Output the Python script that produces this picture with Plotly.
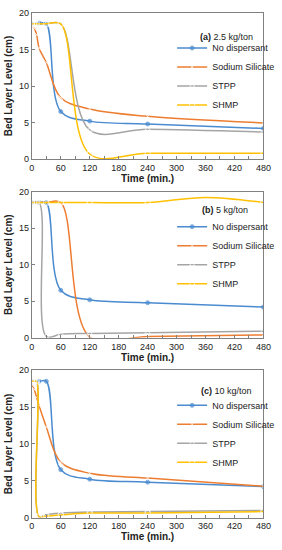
import plotly.graph_objects as go

# ---------------- data ----------------
series_names = ["No dispersant", "Sodium Silicate", "STPP", "SHMP"]
panel_titles = ["<b>(a)</b> 2.5 kg/ton", "<b>(b)</b> 5 kg/ton", "<b>(c)</b> 10 kg/ton"]
x_ticks = [0, 60, 120, 180, 240, 300, 360, 420, 480]
y_ticks = [0, 5, 10, 15, 20]

# panel (a) 2.5 kg/ton
a_nod_t = [0, 15, 30, 60, 120, 240, 480]
a_nod_v = [18.5, 18.6, 18.5, 6.5, 5.2, 4.8, 4.2]
a_ss_t = [0, 5, 10, 15, 30, 60, 120, 240, 480]
a_ss_v = [18.3, 17.9, 17.0, 15.2, 13.2, 8.4, 6.85, 5.85, 4.95]
a_stpp_t = [0, 5, 10, 30, 60, 120, 240, 480]
a_stpp_v = [18.5, 18.5, 18.5, 18.5, 18.5, 4.0, 4.1, 3.7]
a_shmp_t = [0, 5, 10, 30, 60, 120, 240, 480]
a_shmp_v = [18.5, 18.5, 18.5, 18.5, 18.5, 0.7, 0.8, 0.8]

# panel (b) 5 kg/ton
b_nod_t = [0, 15, 30, 60, 120, 240, 480]
b_nod_v = [18.5, 18.5, 18.5, 6.5, 5.2, 4.8, 4.2]
b_ss_t = [0, 30, 60, 120, 240, 480]
b_ss_v = [18.5, 18.5, 18.5, 0.1, 0.2, 0.4]
b_stpp_t = [0, 15, 30, 60, 120, 240, 480]
b_stpp_v = [18.5, 18.5, 0.2, 0.5, 0.6, 0.7, 0.9]
b_shmp_t = [0, 5, 10, 30, 60, 120, 240, 360, 480]
b_shmp_v = [18.5, 18.5, 18.5, 18.5, 18.5, 18.5, 18.5, 19.2, 18.5]

# panel (c) 10 kg/ton
c_nod_t = [0, 15, 30, 60, 120, 240, 480]
c_nod_v = [18.5, 18.5, 18.5, 6.5, 5.2, 4.8, 4.2]
c_ss_t = [0, 5, 10, 15, 30, 60, 120, 240, 480]
c_ss_v = [18.0, 17.4, 16.3, 15.2, 12.3, 7.5, 6.0, 5.35, 4.25]
c_stpp_t = [0, 5, 10, 15, 30, 60, 120, 240, 480]
c_stpp_v = [18.5, 18.5, 18.5, 0.1, 0.4, 0.6, 0.75, 0.8, 0.95]
c_shmp_t = [0, 5, 10, 15, 30, 60, 120, 240, 480]
c_shmp_v = [18.5, 18.5, 18.5, 0.1, 0.2, 0.35, 0.6, 0.6, 0.8]

panels = [
    [(a_nod_t, a_nod_v), (a_ss_t, a_ss_v), (a_stpp_t, a_stpp_v), (a_shmp_t, a_shmp_v)],
    [(b_nod_t, b_nod_v), (b_ss_t, b_ss_v), (b_stpp_t, b_stpp_v), (b_shmp_t, b_shmp_v)],
    [(c_nod_t, c_nod_v), (c_ss_t, c_ss_v), (c_stpp_t, c_stpp_v), (c_shmp_t, c_shmp_v)],
]

# ---------------- style ----------------
W, H = 282, 550
FONT = "Liberation Sans, Arial, sans-serif"
colors = ["#4A8BD0", "#ED7D31", "#A5A5A5", "#FFC000"]
symbols = ["circle", "x-thin-open", "triangle-up-open", "square-open"]
msizes = [4, 5, 5, 5]

# pixel geometry of each plot area (top, bottom)
px_left, px_right = 30, 271
panel_px = [(8, 157), (190, 339), (372, 522)]
legend_top_px = [29, 211, 393]
title_px = [(233, 33), (231, 209), (233, 393)]

fig = go.Figure()
layout = dict(
    width=W, height=H,
    margin=dict(l=0, r=0, t=0, b=0),
    paper_bgcolor="white", plot_bgcolor="white",
    font=dict(family=FONT, size=9, color="#222"),
    annotations=[],
)

for p, data in enumerate(panels):
    sfx = "" if p == 0 else str(p + 1)
    legname = "legend" + sfx
    for s, (t, v) in enumerate(data):
        sizes = [msizes[s]] * len(t)
        if p == 1 and s == 3:
            sizes[t.index(360)] = 0
        fig.add_trace(go.Scatter(
            x=t, y=v, name=series_names[s], mode="lines+markers",
            xaxis="x" + sfx, yaxis="y" + sfx, legend=legname,
            line=dict(color=colors[s], width=1.5, shape="spline", smoothing=1.0),
            marker=dict(symbol=symbols[s], size=sizes, color=colors[s] if s == 0 else "white",
                        line=dict(color=colors[s], width=1)),
            cliponaxis=True,
        ))
    top, bot = panel_px[p]
    ydom = [1 - bot / H, 1 - top / H]
    xdom = [px_left / W, px_right / W]
    axcol = "#808080"
    layout["xaxis" + sfx] = dict(
        domain=xdom, range=[0, 480], anchor="y" + sfx,
        tickvals=x_ticks, ticks="inside", ticklen=3, tickcolor=axcol,
        minor=dict(dtick=30, ticks="inside", ticklen=3, tickcolor=axcol),
        showline=True, linecolor=axcol, linewidth=1, mirror=True,
        showgrid=False, zeroline=False,
        tickfont=dict(size=9, family=FONT, color="#222"),
        title=dict(text="<b>Time (min.)</b>", font=dict(size=10, family=FONT, color="#222"), standoff=1),
    )
    layout["yaxis" + sfx] = dict(
        domain=ydom, range=[0, 20], anchor="x" + sfx,
        tickvals=y_ticks, ticks="inside", ticklen=3, tickcolor=axcol,
        showline=True, linecolor=axcol, linewidth=1, mirror=True,
        showgrid=False, zeroline=False,
        tickfont=dict(size=9, family=FONT, color="#222"),
        title=dict(text="<b>Bed Layer Level (cm)</b>", font=dict(size=10, family=FONT, color="#222"), standoff=4),
    )
    layout[legname] = dict(
        x=176 / W, y=1 - legend_top_px[p] / H, xanchor="left", yanchor="top",
        bgcolor="rgba(0,0,0,0)", borderwidth=0,
        font=dict(size=9, family=FONT, color="#222"),
        tracegroupgap=0, itemclick=False,
    )
    tx, ty = title_px[p]
    layout["annotations"].append(dict(
        text=panel_titles[p], x=tx / W, y=1 - ty / H, xref="paper", yref="paper",
        showarrow=False, xanchor="center", yanchor="middle",
        font=dict(size=9, family=FONT, color="#222"),
    ))

fig.update_layout(**layout)
fig.write_html("out.html", config={"displayModeBar": False},
               post_script="document.body.style.margin='0';document.body.style.overflow='hidden';")
